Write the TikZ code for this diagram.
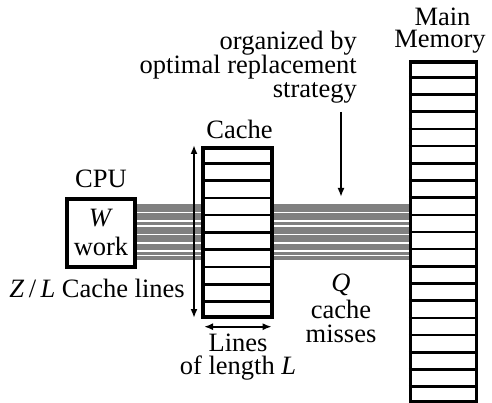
\documentclass[tikz,border=0pt]{standalone}
\usepackage{fontspec}
\setmainfont{Liberation Serif}
\usetikzlibrary{arrows.meta,calc,backgrounds}
\begin{document}
\begin{tikzpicture}[x=1pt,y=-1pt,
  txt/.style={font=\fontsize{26.5}{24}\selectfont, inner sep=0pt},
  box/.style={draw=black, fill=white, line width=4pt, inner sep=0pt},
  rowline/.style={line width=2.6pt},
  arr/.style={line width=2pt, -{Latex[length=9pt,width=7pt]}},
  darr/.style={line width=2pt, {Latex[length=9pt,width=7pt]}-{Latex[length=9pt,width=7pt]}},
  busline/.style={white, line width=1.1pt}]
\useasboundingbox (0,0) rectangle (492,403);

% boxes
\node[box, minimum width=68pt, minimum height=68pt] (cpu) at (101,233) {};
\node[box, minimum width=69pt, minimum height=169pt] (cache) at (237.5,232.5) {};
\node[box, line width=3.5pt, minimum width=66pt, minimum height=340pt] (mem) at (443.7,232) {};

% bus (behind boxes)
\begin{pgfonlayer}{background}
\fill[black!50] (cpu.east |- 0,204.5) rectangle (mem.west |- 0,259.5);
\foreach \y in {212.5,221,226,234.5,243,251,255.5}
  \draw[busline] (cpu.east |- 0,\y) -- (mem.west |- 0,\y);
\end{pgfonlayer}

\foreach \i in {1,...,9}
  \draw[rowline] ($(cache.north west)!\i/10!(cache.south west)$) -- ($(cache.north east)!\i/10!(cache.south east)$);
\foreach \i in {1,...,19}
  \draw[rowline] ($(mem.north west)!\i/20!(mem.south west)$) -- ($(mem.north east)!\i/20!(mem.south east)$);

% texts
\node[txt, anchor=base] (cputitle) at (101,188) {CPU};
\node[txt, anchor=base] (wlab) at (101,227) {\textit{W}};
\node[txt, anchor=base] (worklab) at (101,255) {work};
\node[txt, anchor=base] (cachetitle) at (239.5,139) {Cache};
\node[txt, anchor=base] (maintitle) at (442.5,26) {Main};
\node[txt, anchor=base] (memtitle) at (440,48) {Memory};
\node[txt, anchor=base east] (org1) at (357,50) {organized by};
\node[txt, anchor=base east] (org2) at (357,74) {optimal replacement};
\node[txt, anchor=base east] (org3) at (357,98) {strategy};
\node[txt, anchor=base east] (zl) at (185,297) {\textit{Z}\,/\,\textit{L} Cache lines};
\node[txt, anchor=base] (lines1) at (238,351) {Lines};
\node[txt, anchor=base] (lines2) at (238,374) {of length \textit{L}};
\node[txt, anchor=base] (qlab) at (341,291) {\textit{Q}};
\node[txt, anchor=base] (cm1) at (341,318) {cache};
\node[txt, anchor=base] (cm2) at (341,342) {misses};

% arrows
\coordinate (vtop) at (194,145);
\coordinate (vbot) at (194,318);
\draw[darr] (vtop) -- (vbot);
\coordinate (hl) at (204,326.7);
\coordinate (hr) at (271.7,326.7);
\draw[darr] (hl) -- (hr);
\coordinate (dtop) at (341,112);
\coordinate (dbot) at (341,197);
\draw[arr] (dtop) -- (dbot);
\end{tikzpicture}
\end{document}
